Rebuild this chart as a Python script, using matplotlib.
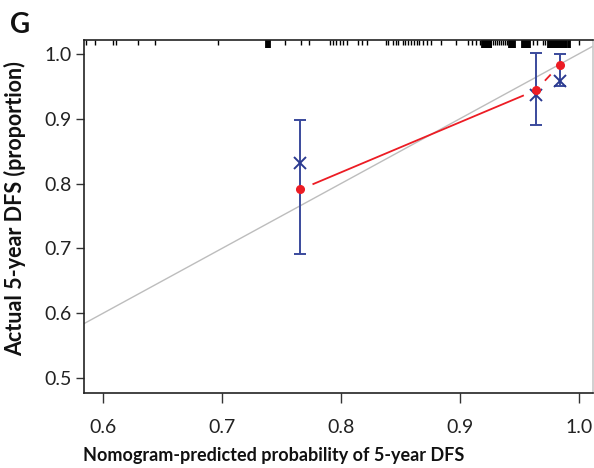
import numpy as np
import matplotlib
matplotlib.use("Agg")
import matplotlib.pyplot as plt
from matplotlib.transforms import blended_transform_factory

# ---- data ----
pred = [0.766, 0.964, 0.984]            # mean predicted probability per group
observed = [0.791, 0.944, 0.983]        # apparent observed (red dots)
corrected = [0.832, 0.936, 0.958]       # bias-corrected (blue X)
ci_low = [0.692, 0.891, 0.951]
ci_high = [0.898, 1.002, 1.000]

xticks = [0.6, 0.7, 0.8, 0.9, 1.0]
yticks = [0.5, 0.6, 0.7, 0.8, 0.9, 1.0]
xlim = (0.584, 1.012)
ylim = (0.477, 1.0215)

# rug of individual predicted probabilities (top of panel)
rug_thin = [0.5861, 0.5929, 0.6084, 0.6109, 0.6298, 0.6433, 0.6966, 0.7534,
            0.7664, 0.7731, 0.7908, 0.7933, 0.7958, 0.7992, 0.8017, 0.8050,
            0.8143, 0.8181, 0.8218, 0.8378, 0.8399, 0.8437, 0.8462, 0.8483,
            0.8521, 0.8542, 0.8563, 0.8588, 0.8613, 0.8639, 0.8660, 0.8689,
            0.8723, 0.8761, 0.8845, 0.8966, 0.9067, 0.9101, 0.9139, 0.9168,
            0.9277, 0.9294, 0.9311, 0.9328, 0.9345, 0.9361, 0.9378, 0.9395,
            0.9613, 0.9647, 0.9697, 0.9714, 0.9999]
rug_thick = [0.7370, 0.7378, 0.7386, 0.7395, 0.7403,
             0.9185, 0.9194, 0.9202, 0.9210, 0.9219, 0.9227, 0.9235, 0.9244,
             0.9252, 0.9260, 0.9265,
             0.9412, 0.9420, 0.9429, 0.9437, 0.9445, 0.9454, 0.9462,
             0.9525, 0.9533, 0.9542, 0.9550, 0.9558, 0.9567, 0.9575, 0.9583,
             0.9588,
             0.9739, 0.9747, 0.9756, 0.9764, 0.9772, 0.9781, 0.9789, 0.9797,
             0.9806, 0.9814, 0.9822, 0.9831, 0.9839, 0.9847, 0.9856, 0.9864,
             0.9872, 0.9881, 0.9889, 0.9897, 0.9906, 0.9914, 0.9922, 0.9929]

plt.rcParams['font.family'] = ['Lato', 'DejaVu Sans']

fig = plt.figure(figsize=(5.94, 4.68), dpi=100)
ax = fig.add_axes([84/594, 1-393/468, (593-84)/594, (393-40)/468])
ax.set_xlim(*xlim)
ax.set_ylim(*ylim)

# ideal line
ax.plot(list(xlim), list(xlim), color='#bdbdbd', lw=1.0, zorder=1)

# error bars (blue)
blue = '#3a4a9c'
ax.errorbar(pred, corrected,
            yerr=[np.array(corrected) - np.array(ci_low),
                  np.array(ci_high) - np.array(corrected)],
            fmt='none', ecolor=blue, elinewidth=1.4, capsize=4.5, capthick=1.4,
            zorder=3)
ax.plot(pred, corrected, linestyle='none', marker='x', color='#2b3a90',
        markersize=8, mew=1.4, zorder=4)

# red points with 'type=b' style lines (gaps around points)
red = '#ec1c24'
ax.plot(pred, observed, linestyle='none', marker='o', color=red,
        markersize=5.5, zorder=5)
fig.canvas.draw()
disp = ax.transData.transform(np.column_stack([pred, observed]))
gap = 14.0
inv = ax.transData.inverted()
for i in range(len(pred) - 1):
    p0, p1 = disp[i], disp[i+1]
    d = p1 - p0
    L = np.hypot(*d)
    if L > 2*gap:
        a = p0 + d*gap/L
        b = p1 - d*gap/L
        seg = inv.transform(np.vstack([a, b]))
        ax.plot(seg[:, 0], seg[:, 1], color=red, lw=1.3, zorder=2)

# rug at top
tr = blended_transform_factory(ax.transData, ax.transAxes)
ax.vlines(rug_thin, 1.0, 1.0 - 5/353, color='black', lw=1.0, transform=tr,
          clip_on=False)
ax.vlines(rug_thick, 1.0, 1.0 - 8/353, color='black', lw=1.3, transform=tr,
          clip_on=False)

ax.set_xticks(xticks)
ax.set_xticklabels([f"{v:.1f}" for v in xticks])
ax.set_yticks(yticks)
ax.set_yticklabels([f"{v:.1f}" for v in yticks])
ax.tick_params(axis='both', labelsize=14, width=1.0,
               color='#333333', labelcolor='#222222')
ax.tick_params(axis='x', pad=12, length=7)
ax.tick_params(axis='y', pad=3, length=6)
for s in ax.spines.values():
    s.set_linewidth(1.2)
    s.set_color('#222222')
ax.spines['right'].set_color('#c8c8c8')

ax.set_xlabel('Nomogram-predicted probability of 5-year DFS',
              fontsize=13, fontweight='bold', ha='left', color='#111111')
ax.xaxis.set_label_coords(-0.002, -0.152)
ax.set_ylabel('Actual 5-year DFS (proportion)', fontsize=15.5,
              fontweight='bold', color='#111111')
ax.yaxis.set_label_coords(-0.114, 0.523)

fig.text(10/594, 1-33/468, 'G', fontsize=20, fontweight='bold',
         color='#111111', ha='left', va='baseline')

fig.savefig('out.png', dpi=100)
